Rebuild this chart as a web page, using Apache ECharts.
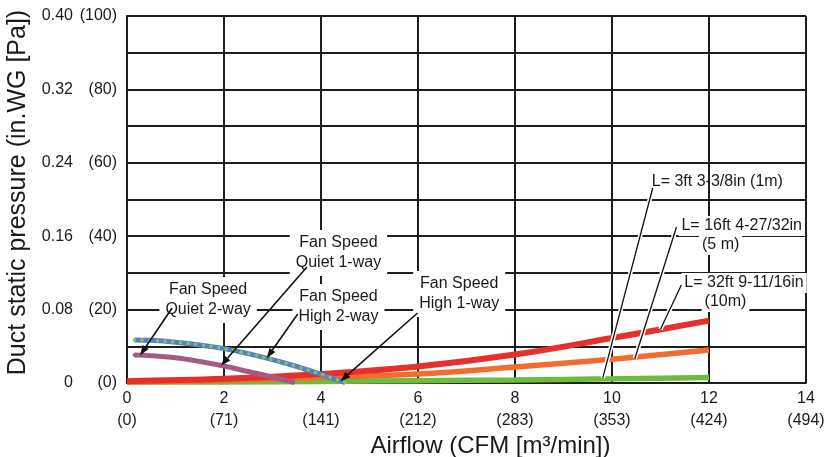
<!DOCTYPE html>
<html>
<head>
<meta charset="utf-8">
<script src="https://cdn.jsdelivr.net/npm/echarts@6/dist/echarts.min.js"></script>
<style>
  html, body { margin: 0; padding: 0; background: #fff; }
  #chart { width: 827px; height: 457px; }
</style>
</head>
<body>
<div id="chart"></div>
<script>
// Axis tick labels (two units per tick)
const airflowCmm = [0, 2, 4, 6, 8, 10, 12, 14];
const airflowCfm = ['(0)', '(71)', '(141)', '(212)', '(283)', '(353)', '(424)', '(494)'];
const pressureInWG = ['0', '0.08', '0.16', '0.24', '0.32', '0.40'];
const pressurePa = ['(0)', '(20)', '(40)', '(60)', '(80)', '(100)'];

// Duct resistance curves: [airflow m3/min, static pressure in.WG]
const duct1m = [[0, 0.001], [2, 0.0012], [4, 0.0017], [6, 0.0025], [8, 0.0033], [10, 0.0045], [12, 0.006]];
const duct5m = [[0, 0.001], [2, 0.003], [4, 0.006], [6, 0.0097], [8, 0.0175], [10, 0.026], [12, 0.036]];
const duct10m = [[0, 0.002], [2, 0.0045], [4, 0.0098], [6, 0.018], [8, 0.031], [10, 0.049], [12, 0.068]];

// Fan curves (1-way and 2-way coincide at each speed)
const fanHigh = [[0.15, 0.047], [0.5, 0.0465], [1, 0.0445], [1.5, 0.0415], [2, 0.0375], [2.5, 0.032], [3, 0.0255], [3.5, 0.018], [4, 0.0095], [4.5, 0.0005]];
const fanQuiet = [[0.15, 0.0305], [0.5, 0.0298], [1, 0.0275], [1.5, 0.0235], [2, 0.0185], [2.5, 0.0125], [3, 0.0065], [3.45, 0.0005]];

// Annotation text anchors and the curve points they refer to (data coordinates)
const fanNotes = [
  { text: 'Fan Speed\nQuiet 2-way', at: [1.672, 0.0905], from: [0.93, 0.0818], to: [0.27, 0.0302] },
  { text: 'Fan Speed\nQuiet 1-way', at: [4.36, 0.1417], from: [3.71, 0.1264], to: [1.94, 0.019] },
  { text: 'Fan Speed\nHigh 2-way', at: [4.36, 0.0828], from: [3.52, 0.0752], to: [2.88, 0.027] },
  { text: 'Fan Speed\nHigh 1-way', at: [6.85, 0.097], from: [5.99, 0.0763], to: [4.4, 0.002] }
];
const ductNotes = [
  { lines: [['L= 3ft 3-3/8in (1m)', [10.82, 0.219], 'left']], bg: false, from: [10.84, 0.2125], to: [9.81, 0.0055] },
  { lines: [['L= 16ft 4-27/32in', [11.37, 0.1711], 'left'], ['(5 m)', [12.24, 0.1504], 'center']], bg: true, from: [11.33, 0.170], to: [10.47, 0.0265] },
  { lines: [['L= 32ft 9-11/16in', [11.43, 0.109], 'left'], ['(10m)', [12.34, 0.0883], 'center']], bg: true, from: [11.43, 0.1068], to: [11.0, 0.0585] }
];

const FONT = '"Liberation Sans", Arial, Helvetica, sans-serif';
const GRID_COLOR = '#1e1e1e';
const TXT = '#1a1a1a';

const chart = echarts.init(document.getElementById('chart'), null, { renderer: 'canvas' });

function lineSeries(name, data, color, width, z) {
  return {
    name, type: 'line', data, smooth: 0.4, showSymbol: false, z,
    lineStyle: { color, width, cap: 'butt' }, silent: true
  };
}
function dotSeries(name, data, color, z) {
  return {
    name, type: 'line', data, smooth: 0.4, showSymbol: false, z,
    lineStyle: { color, width: 3.4, type: [0.1, 7.6], cap: 'round' }, silent: true
  };
}

chart.setOption({
  animation: false,
  backgroundColor: '#fff',
  textStyle: { fontFamily: FONT },
  grid: { left: 127, top: 16, right: 21, bottom: 74, outerBoundsMode: 'none', containLabel: false },
  xAxis: {
    type: 'value', min: 0, max: 14, interval: 2,
    name: 'Airflow (CFM [m³/min])', nameLocation: 'middle', nameGap: 46,
    nameTextStyle: { fontSize: 24, color: TXT, fontFamily: FONT, padding: [0, 0, 0, 48] },
    axisLine: { show: true, lineStyle: { color: GRID_COLOR, width: 2 } },
    axisTick: { show: false },
    splitLine: { show: true, lineStyle: { color: GRID_COLOR, width: 2 } },
    axisLabel: {
      margin: 5,
      formatter: v => {
        const i = airflowCmm.indexOf(Math.round(v));
        return '{a|' + airflowCmm[i] + '}\n{b|' + airflowCfm[i] + '}';
      },
      rich: {
        a: { fontSize: 16, color: TXT, fontFamily: FONT, lineHeight: 22 },
        b: { fontSize: 16, color: TXT, fontFamily: FONT, lineHeight: 22 }
      }
    }
  },
  yAxis: {
    type: 'value', min: 0, max: 0.4, interval: 0.04,
    name: 'Duct static pressure (in.WG [Pa])', nameLocation: 'middle', nameGap: 90, nameRotate: 90,
    nameTextStyle: { fontSize: 25, color: TXT, fontFamily: FONT, padding: [0, 0, 0, 14] },
    axisLine: { show: true, lineStyle: { color: GRID_COLOR, width: 2 } },
    axisTick: { show: false },
    splitLine: { show: true, lineStyle: { color: GRID_COLOR, width: 2 } },
    axisLabel: {
      margin: 10,
      formatter: v => {
        const k = Math.round(v / 0.04);
        if (k % 2) return '';
        return '{a|' + pressureInWG[k / 2] + '}{b|' + pressurePa[k / 2] + '}';
      },
      rich: {
        a: { fontSize: 16, color: TXT, fontFamily: FONT, width: 30, align: 'right' },
        b: { fontSize: 16, color: TXT, fontFamily: FONT, width: 44, align: 'right' }
      }
    }
  },
  series: [
    lineSeries('L=1m', duct1m, '#6cbd3e', 5.5, 2),
    lineSeries('L=5m', duct5m, '#f26c2e', 5.5, 2),
    lineSeries('L=10m', duct10m, '#e8302a', 6, 2),
    lineSeries('Fan Speed Quiet', fanQuiet, '#b25a70', 5, 3),
    dotSeries('Fan Speed Quiet 2-way', fanQuiet, '#7a62b8', 4),
    lineSeries('Fan Speed High', fanHigh, '#5282c2', 5, 3),
    dotSeries('Fan Speed High 2-way', fanHigh, '#8fc05c', 4)
  ]
});

// Annotations: labels, leader lines and arrows, placed through the axis scales
const px = p => chart.convertToPixel({ gridIndex: 0 }, p);
const graphics = [];

ductNotes.forEach(n => {
  const a = px(n.from), b = px(n.to);
  graphics.push({ type: 'line', z: 50, shape: { x1: a[0], y1: a[1], x2: b[0], y2: b[1] }, style: { stroke: '#fff', lineWidth: 4.5 } });
  graphics.push({ type: 'line', z: 51, shape: { x1: a[0], y1: a[1], x2: b[0], y2: b[1] }, style: { stroke: '#111', lineWidth: 1.3 } });
  n.lines.forEach(([t, pos, align]) => {
    const p = px(pos);
    graphics.push({
      type: 'text', z: 49, x: p[0], y: p[1],
      style: {
        text: t, font: '16px ' + FONT, fill: TXT, align, verticalAlign: 'middle',
        backgroundColor: n.bg ? '#fff' : 'transparent', padding: n.bg ? [2, 3, 2, 3] : 0
      }
    });
  });
});

fanNotes.forEach(n => {
  const c = px(n.at), a = px(n.from), b = px(n.to);
  graphics.push({
    type: 'text', z: 45, x: c[0], y: c[1],
    style: {
      text: n.text, font: '16px ' + FONT, fill: TXT, align: 'center', verticalAlign: 'middle',
      lineHeight: 20, backgroundColor: '#fff', padding: [3, 6, 3, 6]
    }
  });
  const dx = b[0] - a[0], dy = b[1] - a[1], len = Math.hypot(dx, dy);
  const ux = dx / len, uy = dy / len, head = 10, half = 3.6;
  const bx = b[0] - ux * head, by = b[1] - uy * head;
  graphics.push({ type: 'line', z: 60, shape: { x1: a[0], y1: a[1], x2: bx, y2: by }, style: { stroke: '#111', lineWidth: 1.6 } });
  graphics.push({
    type: 'polygon', z: 60,
    shape: { points: [[b[0], b[1]], [bx - uy * half, by + ux * half], [bx + uy * half, by - ux * half]] },
    style: { fill: '#111' }
  });
});

chart.setOption({ graphic: graphics });
</script>
</body>
</html>
